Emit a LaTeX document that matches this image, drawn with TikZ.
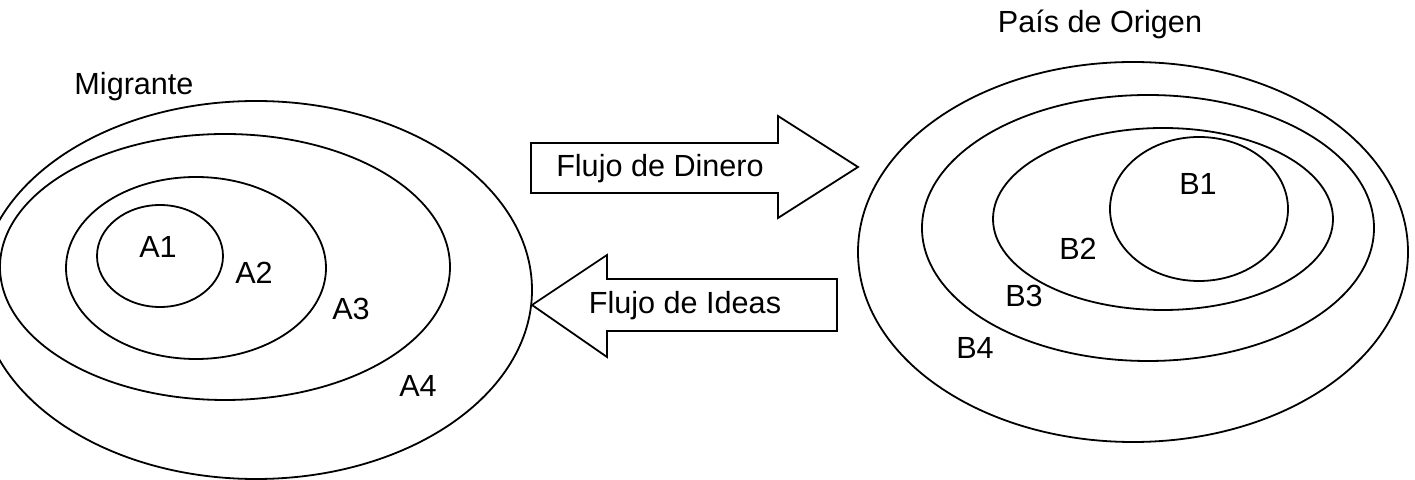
\documentclass[tikz,border=0pt]{standalone}
\usepackage{fontspec}
\setmainfont{Liberation Sans}
\usetikzlibrary{shapes.geometric}
\begin{document}
\begin{tikzpicture}[x=0.5pt,y=-0.5pt,
  ring/.style={draw, ellipse, inner sep=0pt, line width=0.9pt},
  lbl/.style={font=\fontsize{15.3}{18}\selectfont, inner sep=0pt, anchor=base},
  blockarrow/.style={draw, line width=0.9pt, line join=miter}]
\useasboundingbox (0,0) rectangle (1415,480);
% Migrante group
\node[ring, minimum width=276pt, minimum height=189pt] (a4) at (256,290) {};
\node[ring, minimum width=225pt, minimum height=133pt] (a3) at (225,267) {};
\node[ring, minimum width=130pt, minimum height=91pt] (a2) at (196,268) {};
\node[ring, minimum width=63pt, minimum height=51pt] (a1) at (160,256) {};
\node[lbl] (tmig) at (134,95) {Migrante};
\node[lbl] (ta1) at (158,258) {A1};
\node[lbl] (ta2) at (254,284) {A2};
\node[lbl] (ta3) at (351,320) {A3};
\node[lbl] (ta4) at (418,397) {A4};
% Pais de Origen group
\node[ring, minimum width=275pt, minimum height=190pt] (b4) at (1133,252) {};
\node[ring, minimum width=226pt, minimum height=133pt] (b3) at (1148,228) {};
\node[ring, minimum width=170pt, minimum height=91pt] (b2) at (1163,219) {};
\node[ring, minimum width=89pt, minimum height=72pt] (b1) at (1199,209) {};
\node[lbl] (tpais) at (1100,33) {País de Origen};
\node[lbl] (tb1) at (1198,195) {B1};
\node[lbl] (tb2) at (1078,260) {B2};
\node[lbl] (tb3) at (1024,307) {B3};
\node[lbl] (tb4) at (975,359) {B4};
% block arrows
\draw[blockarrow] (531,143) -- (778,143) -- (778,116) -- (858,167) -- (778,218) -- (778,193) -- (531,193) -- cycle;
\node[lbl] (tdin) at (660,177) {Flujo de Dinero};
\draw[blockarrow] (837,279) -- (607,279) -- (607,255) -- (532,305) -- (607,357) -- (607,331) -- (837,331) -- cycle;
\node[lbl] (tide) at (685,314) {Flujo de Ideas};
\end{tikzpicture}
\end{document}
